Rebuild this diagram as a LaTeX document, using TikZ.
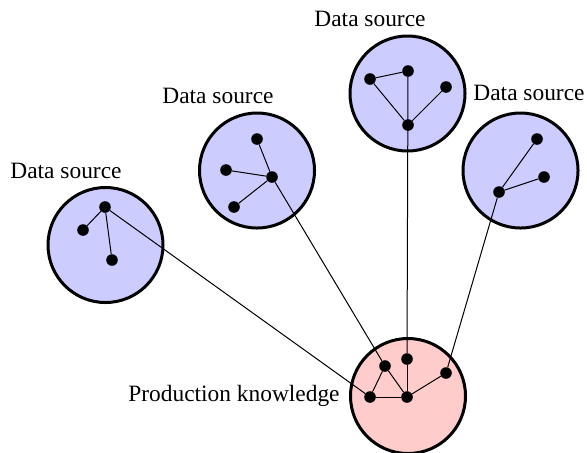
\documentclass[tikz,border=0pt]{standalone}
\usepackage{fontspec}
\setmainfont{Liberation Serif}
\usetikzlibrary{positioning}

\begin{document}
\begin{tikzpicture}[
  x=0.5pt,
  y=-0.5pt,
  line cap=round,
  line join=round,
  font=\fontsize{11.7pt}{14pt}\selectfont,
  source/.style={
    circle,
    draw=black,
    fill=blue!20,
    line width=1.5pt,
    minimum size=57.5pt,
    inner sep=0pt
  },
  knowledge/.style={
    source,
    fill=red!20
  },
  dot/.style={
    circle,
    fill=black,
    minimum size=5.8pt,
    inner sep=0pt
  },
  link/.style={
    draw=black,
    line width=0.5pt
  },
  caption/.style={
    inner sep=0pt
  }
]

  \path[use as bounding box]
    (0,0) rectangle (587,452);

  % Kreise
  \node[source] (s1) at (105.5,245) {};
  \node[source] (s2) at (257,170.5) {};
  \node[source] (s3) at (407.5,93.5) {};
  \node[source] (s4) at (520.5,170.5) {};
  \node[knowledge] (pk) at (408,396) {};

  % Beschriftungen
  \node[caption] (l1) at (66,171) {Data source};
  \node[caption] (l2) at (218,96) {Data source};
  \node[caption] (l3) at (370,19) {Data source};
  \node[caption] (l4) at (529,93) {Data source};
  \node[caption,left=4.5pt of pk.west,anchor=east] (lp) {Production knowledge};

  % Punkte, Quelle 1
  \node[dot] (a1) at (105,207) {};
  \node[dot] (a2) at (83,230) {};
  \node[dot] (a3) at (112,260) {};

  % Punkte, Quelle 2
  \node[dot] (b1) at (257,139) {};
  \node[dot] (b2) at (226,170) {};
  \node[dot] (b3) at (272,177) {};
  \node[dot] (b4) at (234,207) {};

  % Punkte, Quelle 3
  \node[dot] (c1) at (370,79) {};
  \node[dot] (c2) at (408,71) {};
  \node[dot] (c3) at (446,87) {};
  \node[dot] (c4) at (408,125) {};

  % Punkte, Quelle 4
  \node[dot] (d1) at (537,139) {};
  \node[dot] (d2) at (544,177) {};
  \node[dot] (d3) at (499,192) {};

  % Punkte, Wissen
  \node[dot] (p1) at (385,366) {};
  \node[dot] (p2) at (407,359) {};
  \node[dot] (p3) at (446,373) {};
  \node[dot] (p4) at (370,397) {};
  \node[dot] (p5) at (407,397) {};

  % Kanten innerhalb der Kreise
  \draw[link] (a1) -- (a2);
  \draw[link] (a1) -- (a3);

  \draw[link] (b3) -- (b1);
  \draw[link] (b3) -- (b2);
  \draw[link] (b3) -- (b4);

  \draw[link] (c1) -- (c2);
  \draw[link] (c1) -- (c4);
  \draw[link] (c3) -- (c4);

  \draw[link] (d3) -- (d1);
  \draw[link] (d3) -- (d2);

  \draw[link] (p4) -- (p1);
  \draw[link] (p1) -- (p5);
  \draw[link] (p4) -- (p5);
  \draw[link] (p5) -- (p3);

  % Kanten zum Wissen
  \draw[link] (a1) -- (p4);
  \draw[link] (b3) -- (p1);
  \draw[link] (c2) -- (p2);
  \draw[link] (p2) -- (p5);
  \draw[link] (d3) -- (p3);

\end{tikzpicture}
\end{document}
